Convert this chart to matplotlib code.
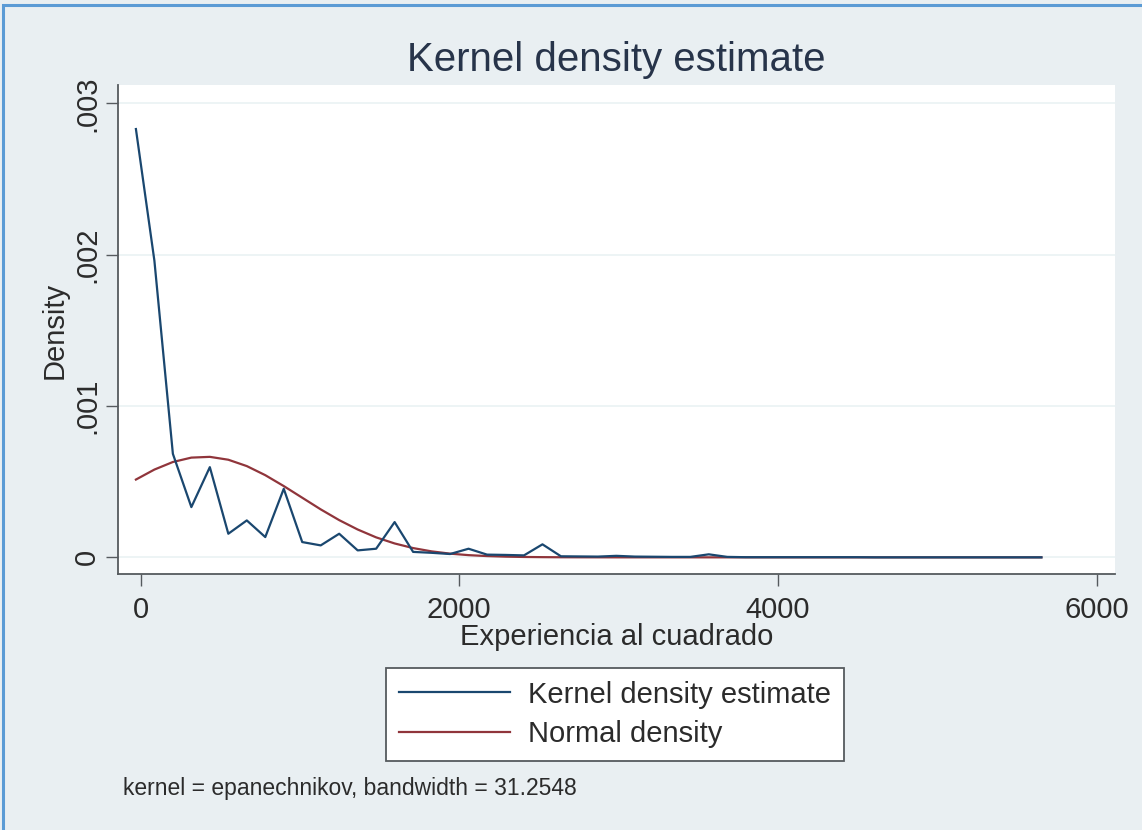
import matplotlib
matplotlib.use("Agg")
import matplotlib.pyplot as plt
from matplotlib.patches import Rectangle

# ---- data ----
grid_x = [-30, 86, 202, 318, 434, 550, 666, 782, 898, 1014,
          1130, 1246, 1362, 1478, 1594, 1710, 1826, 1942, 2058, 2174,
          2290, 2406, 2522, 2638, 2754, 2870, 2986, 3102, 3218, 3334,
          3450, 3566, 3682, 3798, 3914, 4030, 4146, 4262, 4378, 4494,
          4610, 4726, 4842, 4958, 5074, 5190, 5306, 5422, 5538, 5654]

kernel_density = [2.83e-3, 1.96e-3, 0.684e-3, 0.332e-3, 0.596e-3, 0.156e-3, 0.244e-3, 0.134e-3, 0.453e-3, 0.101e-3,
                  0.079e-3, 0.156e-3, 0.046e-3, 0.057e-3, 0.233e-3, 0.036e-3, 0.030e-3, 0.022e-3, 0.057e-3, 0.018e-3,
                  0.016e-3, 0.013e-3, 0.086e-3, 0.007e-3, 0.006e-3, 0.005e-3, 0.010e-3, 0.005e-3, 0.004e-3, 0.003e-3,
                  0.003e-3, 0.020e-3, 0.003e-3, 0.001e-3, 0.001e-3, 0.001e-3, 0.001e-3, 0.001e-3, 0.001e-3, 0.001e-3,
                  0.0, 0.0, 0.0, 0.0, 0.0, 0.0, 0.0, 0.0, 0.0, 0.0]

normal_density = [0.514e-3, 0.580e-3, 0.630e-3, 0.659e-3, 0.664e-3, 0.645e-3, 0.603e-3, 0.543e-3, 0.471e-3, 0.394e-3,
                  0.317e-3, 0.246e-3, 0.184e-3, 0.132e-3, 0.0918e-3, 0.0613e-3, 0.0395e-3, 0.0245e-3, 0.0146e-3, 0.0084e-3,
                  0.0047e-3, 0.0025e-3, 0.0013e-3, 0.0006e-3, 0.0003e-3, 0.0001e-3, 0.0, 0.0, 0.0, 0.0,
                  0.0, 0.0, 0.0, 0.0, 0.0, 0.0, 0.0, 0.0, 0.0, 0.0,
                  0.0, 0.0, 0.0, 0.0, 0.0, 0.0, 0.0, 0.0, 0.0, 0.0]

x_ticks = [0, 2000, 4000, 6000]
x_tick_labels = ["0", "2000", "4000", "6000"]
y_ticks = [0, 0.001, 0.002, 0.003]
y_tick_labels = ["0", ".001", ".002", ".003"]

title = "Kernel density estimate"
x_label = "Experiencia al cuadrado"
y_label = "Density"
legend_labels = ["Kernel density estimate", "Normal density"]
note = "kernel = epanechnikov, bandwidth = 31.2548"

# ---- style ----
plt.rcParams['font.family'] = ['Liberation Sans', 'DejaVu Sans']
BG = '#e9eff2'
NAVY = '#1a476f'
MAROON = '#90353b'
AXC = '#555a5e'
TXT = '#2b2b2b'

W, H = 1142, 830
fig = plt.figure(figsize=(W / 100, H / 100), dpi=100, facecolor=BG)

# outer picture border (top and left visible)
fig.patches.append(Rectangle((3 / W, -0.1), 1.2, 1 - 5 / H + 0.1, transform=fig.transFigure,
                             fill=False, edgecolor='#5b9bd5', linewidth=2.2, zorder=10))

left, right, top, bottom = 118.3, 1115, 85, 574.3
ax = fig.add_axes([left / W, 1 - bottom / H, (right - left) / W, (bottom - top) / H])
ax.set_facecolor('white')
ax.set_xlim(-140.6, 6116)
ax.set_ylim(-0.000112, 0.003121)

for y in y_ticks:
    ax.axhline(y, color='#eaf2f3', lw=1.2, zorder=1)

ax.plot(grid_x, kernel_density, color=NAVY, lw=1.6, zorder=3, label=legend_labels[0])
ax.plot(grid_x, normal_density, color=MAROON, lw=1.6, zorder=2, label=legend_labels[1])

for s in ['top', 'right']:
    ax.spines[s].set_visible(False)
for s in ['left', 'bottom']:
    ax.spines[s].set_color(AXC)
    ax.spines[s].set_linewidth(1.3)

ax.set_xticks(x_ticks)
ax.set_xticklabels(x_tick_labels)
ax.set_yticks(y_ticks)
ax.set_yticklabels(y_tick_labels, rotation=90, va='center')
ax.tick_params(axis='both', direction='out', length=8.5, width=1, color=AXC,
               labelsize=21, labelcolor=TXT)
ax.tick_params(axis='x', pad=7)
ax.tick_params(axis='y', pad=4)

fig.text(616.5 / W, 1 - 60 / H, title, ha='center', va='center', fontsize=29, color='#27344a')
fig.text(617 / W, 1 - 637 / H, x_label, ha='center', va='center', fontsize=21, color=TXT)
fig.text(55 / W, 1 - 330 / H, y_label, ha='center', va='center', rotation=90, fontsize=21, color=TXT)
fig.text(123 / W, 1 - 788 / H, note, ha='left', va='center', fontsize=16.5, color=TXT)

leg = fig.legend(loc='center', bbox_to_anchor=(615 / W, 1 - 714.5 / H), bbox_transform=fig.transFigure,
                 fontsize=21, frameon=True, fancybox=False, framealpha=1, handlelength=3.8, handletextpad=0.6,
                 labelspacing=0.4, borderpad=0.45)
leg.get_frame().set_edgecolor(AXC)
leg.get_frame().set_linewidth(1.3)
leg.get_frame().set_facecolor('white')
for t in leg.get_texts():
    t.set_color(TXT)

fig.savefig('out.png', dpi=100, facecolor=BG)
